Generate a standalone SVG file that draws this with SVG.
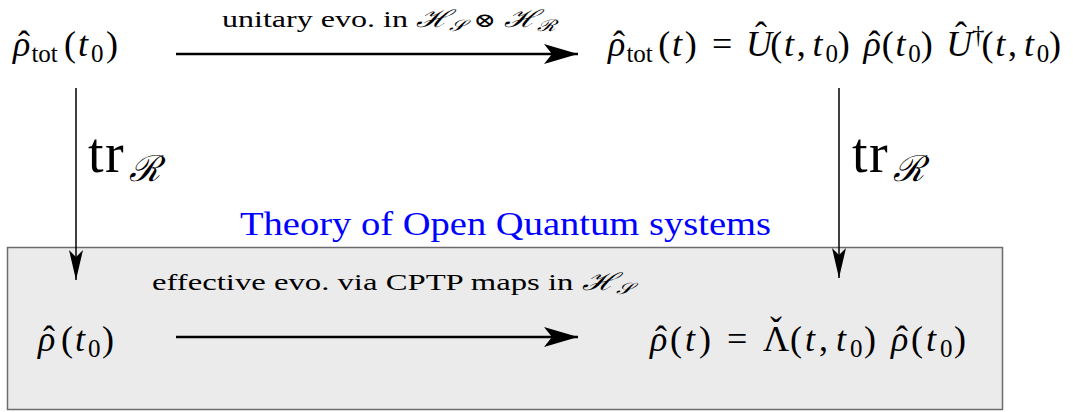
<svg xmlns="http://www.w3.org/2000/svg" width="1073" height="412" viewBox="0 0 1073 412">
<style>
text{font-family:"Liberation Serif","DejaVu Serif",serif;fill:#000}
.f{font-size:36px}
.s{font-size:25px}
.i{font-style:italic}
.lbl{font-size:24px}
.title{font-size:34px;fill:#0000ff}
.tr{font-size:56px}
.h{stroke:#000;stroke-width:2.5;fill:none}
.v{stroke:#000;stroke-width:1.5;fill:none}
</style>
<defs>
<marker id="ah" markerUnits="userSpaceOnUse" markerWidth="36" markerHeight="24" refX="34" refY="10" orient="auto">
<path d="M0,0 L34,10 L0,20 L8,10 Z" fill="#000"/>
</marker>
<marker id="av" markerUnits="userSpaceOnUse" markerWidth="32" markerHeight="16" refX="30" refY="7" orient="auto">
<path d="M0,0 L30,7 L0,14 L7,7 Z" fill="#000"/>
</marker>
</defs>
<g id="box">
<rect x="7.5" y="247.5" width="995" height="162" fill="#ebebeb" stroke="#6b6b6b" stroke-width="1.5"/>
<text class="title" x="240" y="235" textLength="531" lengthAdjust="spacingAndGlyphs">Theory of Open Quantum systems</text>
</g>
<g id="connectors">
<line class="h" x1="176" y1="54" x2="578" y2="54" marker-end="url(#ah)"/>
<line class="h" x1="176" y1="337" x2="578" y2="337" marker-end="url(#ah)"/>
<line class="v" x1="76" y1="88" x2="76" y2="280" marker-end="url(#av)"/>
<line class="v" x1="839" y1="88" x2="839" y2="278" marker-end="url(#av)"/>
<text class="lbl" x="222" y="27" textLength="334" lengthAdjust="spacingAndGlyphs">unitary evo. in <tspan class="i">ℋ</tspan><tspan font-size="16" dy="4" class="i">𝒮</tspan><tspan dy="-4"> </tspan><tspan font-size="20">⊗</tspan> <tspan class="i">ℋ</tspan><tspan font-size="16" dy="4" class="i">ℛ</tspan></text>
<text class="lbl" x="152" y="290" textLength="480" lengthAdjust="spacingAndGlyphs">effective evo. via CPTP maps in <tspan class="i">ℋ</tspan><tspan font-size="16" dy="4" class="i">𝒮</tspan></text>
<text class="tr" x="88" y="172">t<tspan x="105">r</tspan><tspan class="i" font-size="36" x="129" y="181">ℛ</tspan></text>
<text class="tr" x="852" y="172">t<tspan x="869">r</tspan><tspan class="i" font-size="36" x="893" y="181">ℛ</tspan></text>
</g>
<g id="n1">
<text class="f" y="56"><tspan class="i" x="13">ρ</tspan><tspan x="18" y="56">ˆ</tspan><tspan class="s" x="31.4" y="61.5">tot</tspan><tspan x="64" y="56">(</tspan><tspan class="i" x="78">t</tspan><tspan class="s" x="91" y="61.5">0</tspan><tspan x="106" y="56">)</tspan></text>
</g>
<g id="n2">
<text class="f" y="56"><tspan class="i" x="608">ρ</tspan><tspan x="613">ˆ</tspan><tspan class="s" x="626.4" y="61.5">tot</tspan><tspan x="658.2" y="56">(</tspan><tspan class="i" x="672">t</tspan><tspan x="684.8">)</tspan><tspan x="712">=</tspan><tspan class="i" x="746">U</tspan><tspan x="755" y="47">ˆ</tspan><tspan x="770.2" y="56">(</tspan><tspan class="i" x="784">t</tspan><tspan x="796.8">,</tspan><tspan class="i" x="812.6">t</tspan><tspan class="s" x="825.4" y="61.5">0</tspan><tspan x="837.8" y="56">)</tspan><tspan class="i" x="863.4">ρ</tspan><tspan x="868.4">ˆ</tspan><tspan x="881.7">(</tspan><tspan class="i" x="895.5">t</tspan><tspan class="s" x="908.3" y="61.5">0</tspan><tspan x="920.7" y="56">)</tspan><tspan class="i" x="946.3">U</tspan><tspan x="955" y="47">ˆ</tspan><tspan class="s" x="972" y="43">†</tspan><tspan x="981.5" y="56">(</tspan><tspan class="i" x="995.3">t</tspan><tspan x="1008.1">,</tspan><tspan class="i" x="1023.9">t</tspan><tspan class="s" x="1036.7" y="61.5">0</tspan><tspan x="1049.1" y="56">)</tspan></text>
</g>
<g id="n3">
<text class="f" y="351"><tspan class="i" x="38">ρ</tspan><tspan x="43">ˆ</tspan><tspan x="61">(</tspan><tspan class="i" x="75">t</tspan><tspan class="s" x="88" y="356.5">0</tspan><tspan x="102" y="351">)</tspan></text>
</g>
<g id="n4">
<text class="f" y="351"><tspan class="i" x="650">ρ</tspan><tspan x="655">ˆ</tspan><tspan x="670">(</tspan><tspan class="i" x="685">t</tspan><tspan x="699">)</tspan><tspan x="727">=</tspan><tspan x="763">Λ</tspan><tspan x="770" y="342">ˇ</tspan><tspan x="790" y="351">(</tspan><tspan class="i" x="805">t</tspan><tspan x="819">,</tspan><tspan class="i" x="836">t</tspan><tspan class="s" x="850" y="356.5">0</tspan><tspan x="864" y="351">)</tspan><tspan class="i" x="891">ρ</tspan><tspan x="896">ˆ</tspan><tspan x="911">(</tspan><tspan class="i" x="926">t</tspan><tspan class="s" x="940" y="356.5">0</tspan><tspan x="954" y="351">)</tspan></text>
</g>
</svg>
